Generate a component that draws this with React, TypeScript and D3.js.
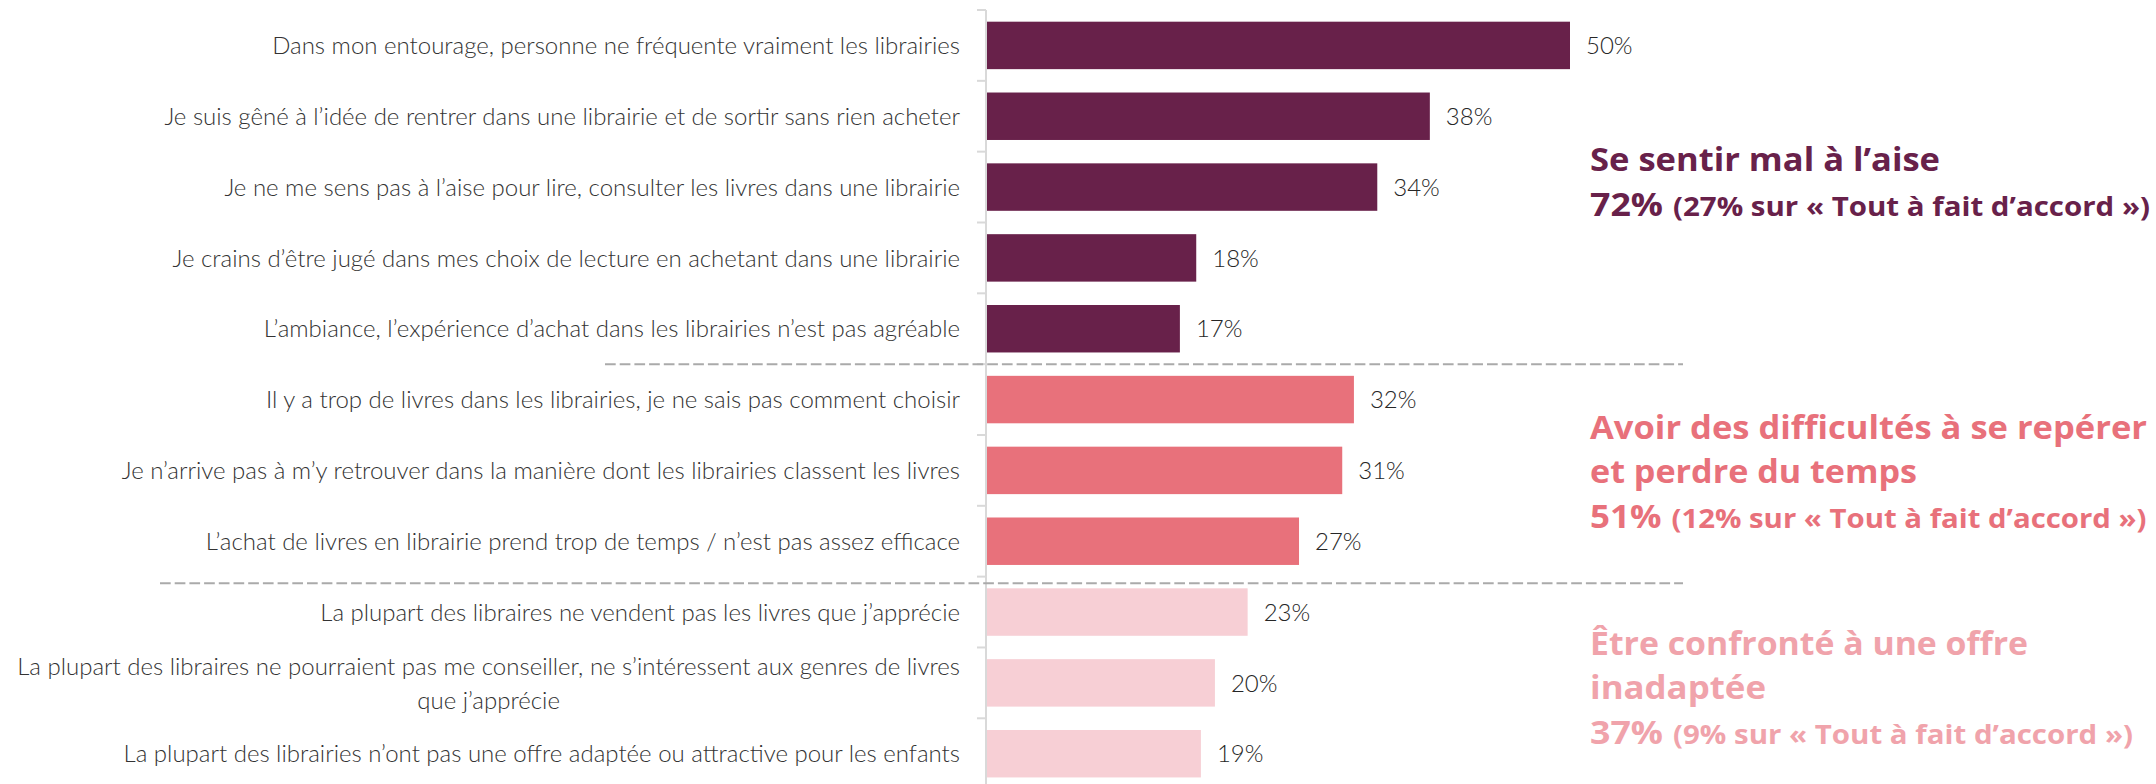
import React, { useEffect, useRef } from 'react';
import * as d3 from 'd3';

// ---------- DATA ----------
const categories: string[] = [
  'Dans mon entourage, personne ne fréquente vraiment les librairies',
  'Je suis gêné à l’idée de rentrer dans une librairie et de sortir sans rien acheter',
  'Je ne me sens pas à l’aise pour lire, consulter les livres dans une librairie',
  'Je crains d’être jugé dans mes choix de lecture en achetant dans une librairie',
  'L’ambiance, l’expérience d’achat dans les librairies n’est pas agréable',
  'Il y a trop de livres dans les librairies, je ne sais pas comment choisir',
  'Je n’arrive pas à m’y retrouver dans la manière dont les librairies classent les livres',
  'L’achat de livres en librairie prend trop de temps / n’est pas assez efficace',
  'La plupart des libraires ne vendent pas les livres que j’apprécie',
  'La plupart des libraires ne pourraient pas me conseiller, ne s’intéressent aux genres de livres|que j’apprécie',
  'La plupart des librairies n’ont pas une offre adaptée ou attractive pour les enfants',
];
// bar lengths (%)
const values: number[] = [50, 38, 33.5, 18, 16.6, 31.5, 30.5, 26.8, 22.4, 19.6, 18.4];
// printed value labels
const valueLabels: string[] = ['50%', '38%', '34%', '18%', '17%', '32%', '31%', '27%', '23%', '20%', '19%'];
const groupIndex: number[] = [0, 0, 0, 0, 0, 1, 1, 1, 2, 2, 2];

const groupTitles: string[][] = [
  ['Se sentir mal à l’aise'],
  ['Avoir des difficultés à se repérer', 'et perdre du temps'],
  ['Être confronté à une offre', 'inadaptée'],
];
const groupTotals: string[] = ['72%', '51%', '37%'];
const groupDetails: string[] = [
  '(27% sur « Tout à fait d’accord »)',
  '(12% sur « Tout à fait d’accord »)',
  '(9% sur « Tout à fait d’accord »)',
];

// ---------- STYLE / LAYOUT ----------
const barColors = ['#68214a', '#e8717b', '#f7cfd5'];
const noteColors = ['#68214a', '#e8717b', '#f0a3ab'];
// widths of annotation lines in the reference layout (px)
const titleWidths: number[][] = [[350], [557, 327], [438, 176]];
const totalWidths: number[] = [73, 71.5, 73];
const detailWidths: number[] = [477, 475, 460];

const W = 2156;
const H = 784;

export default function App() {
  const ref = useRef<SVGSVGElement | null>(null);

  useEffect(() => {
    const svg = d3.select(ref.current);
    svg.selectAll('*').remove();

    const n = categories.length;
    const top = 10;
    const step = 70.83;
    const y = d3
      .scaleBand<number>()
      .domain(d3.range(n))
      .range([top, top + n * step])
      .paddingInner(0.33)
      .paddingOuter(0.165);
    const x = d3.scaleLinear().domain([0, 50]).range([986, 1570]);

    const labelFont = 'Lato, "Open Sans", sans-serif';

    // axis line + ticks
    const axisX = x(0);
    svg
      .append('line')
      .attr('x1', axisX)
      .attr('x2', axisX)
      .attr('y1', top)
      .attr('y2', top + n * step)
      .attr('stroke', '#d9d9d9')
      .attr('stroke-width', 2);
    svg
      .selectAll('line.tick')
      .data(d3.range(n + 1))
      .join('line')
      .attr('class', 'tick')
      .attr('x1', axisX - 9)
      .attr('x2', axisX)
      .attr('y1', (i) => top + i * y.step())
      .attr('y2', (i) => top + i * y.step())
      .attr('stroke', '#d9d9d9')
      .attr('stroke-width', 2);

    // bars
    svg
      .selectAll('rect.bar')
      .data(values)
      .join('rect')
      .attr('class', 'bar')
      .attr('x', x(0) + 1)
      .attr('y', (_, i) => y(i)!)
      .attr('width', (d) => x(d) - x(0) - 1)
      .attr('height', y.bandwidth())
      .attr('fill', (_, i) => barColors[groupIndex[i]]);

    // value labels
    svg
      .selectAll('text.val')
      .data(values)
      .join('text')
      .attr('class', 'val')
      .attr('x', (d) => x(d) + 16)
      .attr('y', (_, i) => y(i)! + y.bandwidth() / 2)
      .attr('dy', '0.36em')
      .attr('font-family', labelFont)
      .attr('font-weight', 300)
      .attr('font-size', 24)
      .attr('fill', '#262626')
      .text((_, i) => valueLabels[i]);

    // category labels
    const labelRight = 960;
    categories.forEach((c, i) => {
      const lines = c.split('|');
      const cy = y(i)! + y.bandwidth() / 2;
      const lh = 34;
      const t0 = cy - ((lines.length - 1) * lh) / 2;
      const first = svg
        .append('text')
        .attr('x', labelRight)
        .attr('y', t0)
        .attr('dy', '0.36em')
        .attr('text-anchor', 'end')
        .attr('font-family', labelFont)
        .attr('font-weight', 300)
        .attr('font-size', 24)
        .attr('fill', '#333333')
        .text(lines[0]);
      if (lines.length > 1) {
        const w = (first.node() as SVGTextElement).getComputedTextLength();
        lines.slice(1).forEach((ln, k) => {
          svg
            .append('text')
            .attr('x', labelRight - w / 2)
            .attr('y', t0 + (k + 1) * lh)
            .attr('dy', '0.36em')
            .attr('text-anchor', 'middle')
            .attr('font-family', labelFont)
            .attr('font-weight', 300)
            .attr('font-size', 24)
            .attr('fill', '#333333')
            .text(ln);
        });
      }
    });

    // group separators
    const sepDefs = [
      { after: 5, x1: 605, offset: 0 },
      { after: 8, x1: 160, offset: 6.5 },
    ];
    sepDefs.forEach((s) => {
      const yy = top + s.after * y.step() + s.offset;
      svg
        .append('line')
        .attr('x1', s.x1)
        .attr('x2', 1683)
        .attr('y1', yy)
        .attr('y2', yy)
        .attr('stroke', '#aaaaaa')
        .attr('stroke-width', 2)
        .attr('stroke-dasharray', '10.7 4');
    });

    // group annotations
    const noteX = 1590;
    const noteLH = 44.5;
    const noteDy = [-16, -31.4, -28];
    const noteFont = '"Open Sans", Lato, sans-serif';
    groupTitles.forEach((titles, g) => {
      const rows = d3.range(n).filter((i) => groupIndex[i] === g);
      const center = (y(rows[0])! + y(rows[rows.length - 1])! + y.bandwidth()) / 2;
      const base = center + noteDy[g];
      titles.forEach((t, k) => {
        svg
          .append('text')
          .attr('x', noteX)
          .attr('y', base + k * noteLH)
          .attr('font-family', noteFont)
          .attr('font-weight', 700)
          .attr('font-size', 32)
          .attr('textLength', titleWidths[g][k])
          .attr('lengthAdjust', 'spacingAndGlyphs')
          .attr('fill', noteColors[g])
          .text(t);
      });
      const yLast = base + titles.length * noteLH;
      svg
        .append('text')
        .attr('x', noteX)
        .attr('y', yLast)
        .attr('font-family', noteFont)
        .attr('font-weight', 700)
        .attr('font-size', 32)
        .attr('textLength', totalWidths[g])
        .attr('lengthAdjust', 'spacingAndGlyphs')
        .attr('fill', noteColors[g])
        .text(groupTotals[g]);
      svg
        .append('text')
        .attr('x', noteX + totalWidths[g] + 10)
        .attr('y', yLast)
        .attr('font-family', noteFont)
        .attr('font-weight', 700)
        .attr('font-size', 27)
        .attr('textLength', detailWidths[g])
        .attr('lengthAdjust', 'spacingAndGlyphs')
        .attr('fill', noteColors[g])
        .text(groupDetails[g]);
    });
  }, []);

  return (
    <svg
      ref={ref}
      width={W}
      height={H}
      style={{ position: 'absolute', left: 0, top: 0, display: 'block', background: '#ffffff' }}
    />
  );
}
